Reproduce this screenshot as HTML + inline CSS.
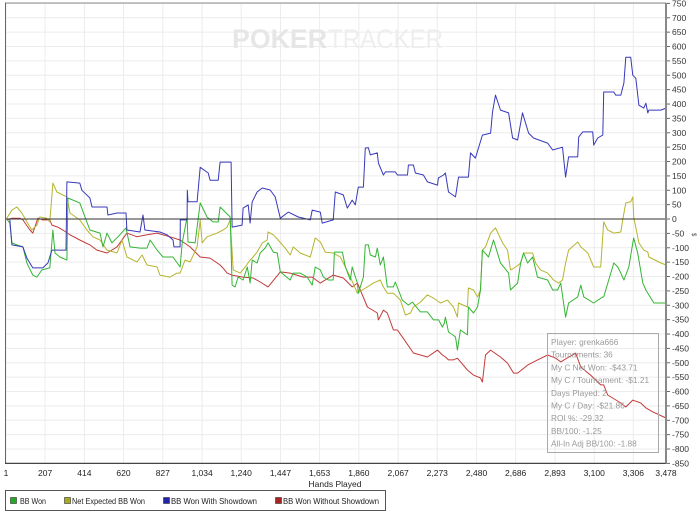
<!DOCTYPE html>
<html><head><meta charset="utf-8"><style>
body{margin:0;background:#fff;width:700px;height:516px;overflow:hidden;font-family:"Liberation Sans",sans-serif}
svg{display:block}
</style></head><body>
<svg id="chart" width="700" height="516" font-family="Liberation Sans, sans-serif">
<g id="grid"></g>
<g>
<text x="232" y="48" font-size="27" font-weight="bold" fill="#e6e6e6" textLength="95" lengthAdjust="spacingAndGlyphs">POKER</text>
<text x="328" y="48" font-size="27" fill="#eeeeee" textLength="115" lengthAdjust="spacingAndGlyphs">TRACKER</text>
</g>
<g id="series"></g>
<g id="axes"></g>
<g font-size="8.3" fill="#999">
<rect x="547.5" y="333.5" width="111" height="119" fill="none" stroke="#aaa"/>
<text x="551" y="345">Player: grenka666</text>
<text x="551" y="357.7">Tournaments: 36</text>
<text x="551" y="370.4">My C Net Won: -$43.71</text>
<text x="551" y="383.1">My C / Tournament: -$1.21</text>
<text x="551" y="395.8">Days Played: 2</text>
<text x="551" y="408.5">My C / Day: -$21.86</text>
<text x="551" y="421.2">ROI %: -29.32</text>
<text x="551" y="433.9">BB/100: -1.25</text>
<text x="551" y="446.6">All-In Adj BB/100: -1.88</text>
</g>
<text x="335" y="487" font-size="8.5" text-anchor="middle" fill="#222">Hands Played</text>
<text x="0" y="0" font-size="6" fill="#444" transform="translate(692,233) rotate(90)">$</text>
<g font-size="8.5" fill="#222">
<rect x="5.5" y="490.5" width="380" height="20" fill="#fff" stroke="#555"/>
<g><rect x="10.5" y="497.5" width="6" height="6" fill="#22aa22" stroke="#333" stroke-width="0.6"/><text x="20" y="504" textLength="26" lengthAdjust="spacingAndGlyphs">BB Won</text></g>
<g><rect x="64.5" y="497.5" width="6" height="6" fill="#aaaa22" stroke="#333" stroke-width="0.6"/><text x="72" y="504" textLength="73" lengthAdjust="spacingAndGlyphs">Net Expected BB Won</text></g>
<g><rect x="163.5" y="497.5" width="6" height="6" fill="#2222aa" stroke="#333" stroke-width="0.6"/><text x="171" y="504" textLength="86" lengthAdjust="spacingAndGlyphs">BB Won With Showdown</text></g>
<g><rect x="275.5" y="497.5" width="6" height="6" fill="#aa2222" stroke="#333" stroke-width="0.6"/><text x="283" y="504" textLength="96" lengthAdjust="spacingAndGlyphs">BB Won Without Showdown</text></g>
</g>
</svg>
<script>
const xTickLabels=["1","207","414","620","827","1,034","1,240","1,447","1,653","1,860","2,067","2,273","2,480","2,686","2,893","3,100","3,306","3,478"];
const xTickValues=[1,207,414,620,827,1034,1240,1447,1653,1860,2067,2273,2480,2686,2893,3100,3306,3478];
const yMin=-850, yMax=750, yStep=50;

const blueHands=[1,21,32,90,111,142,195,222,243,317,322,390,401,443,454,533,538,586,633,638,707,723,733,812,849,881,886,918,919,955,956,960,1008,1024,1066,1076,1119,1129,1187,1192,1245,1250,1277,1287,1298,1324,1351,1393,1419,1446,1488,1541,1604,1614,1657,1667,1725,1736,1778,1799,1825,1841,1857,1884,1894,1910,1920,1957,1963,1989,2000,2052,2063,2116,2121,2147,2158,2200,2221,2274,2279,2306,2316,2332,2369,2385,2437,2448,2474,2511,2554,2564,2580,2606,2649,2670,2696,2722,2754,2780,2854,2881,2933,2949,2965,3013,3018,3039,3092,3097,3118,3145,3150,3203,3213,3240,3256,3266,3292,3303,3319,3335,3361,3372,3382,3388,3451,3478];
const blueValues=[0,0,-90,-97,-136,-170,-170,-153,-108,-108,129,125,100,73,42,42,14,21,21,-38,-45,14,-38,-45,-55,-73,-97,-97,-3,-3,100,60,60,180,160,135,135,198,198,-28,-21,38,49,-14,60,94,108,101,77,3,24,7,-3,31,24,-14,-3,94,84,38,66,49,111,111,247,248,223,230,195,153,164,164,153,153,188,188,160,153,129,118,143,153,160,94,77,146,146,230,212,292,299,372,431,379,369,282,275,369,299,282,264,240,250,146,216,216,285,303,303,257,282,292,442,442,431,431,473,563,563,500,490,396,386,403,369,379,379,386];

const greenHands=[1,5,21,32,58,90,111,142,164,190,232,248,259,285,322,327,390,417,443,496,512,533,559,601,633,654,707,744,760,797,828,881,918,929,955,960,997,1024,1060,1092,1119,1129,1182,1192,1208,1224,1250,1272,1287,1298,1324,1340,1366,1382,1409,1430,1446,1498,1514,1551,1588,1614,1630,1657,1673,1699,1725,1731,1773,1789,1815,1825,1852,1857,1884,1894,1910,1920,1947,1957,1973,1989,2010,2042,2052,2089,2121,2142,2184,2221,2253,2280,2300,2310,2316,2332,2369,2379,2395,2432,2437,2464,2485,2501,2511,2543,2569,2606,2649,2659,2696,2712,2728,2749,2775,2801,2854,2881,2907,2923,2949,2965,3013,3029,3045,3097,3145,3150,3203,3224,3240,3256,3282,3303,3308,3329,3356,3372,3382,3414,3478];
const greenValues=[0,0,-14,-83,-90,-97,-153,-195,-202,-177,-170,-38,-118,-132,-143,73,56,7,-38,-49,-97,-49,-83,-55,-31,-97,-101,-101,-73,-108,-132,-132,-167,-83,7,-80,-83,56,7,-10,-10,42,7,-230,-236,-202,-212,-167,-223,-143,-153,-118,-101,-83,-115,-118,-184,-212,-188,-188,-202,-230,-167,-177,-202,-212,-212,-115,-115,-167,-212,-167,-223,-258,-202,-90,-90,-125,-132,-101,-160,-132,-236,-236,-219,-282,-299,-289,-323,-323,-351,-351,-376,-362,-341,-393,-410,-456,-386,-403,-306,-327,-306,-247,-108,-132,-73,-153,-188,-247,-223,-153,-118,-153,-132,-202,-212,-247,-247,-223,-341,-292,-271,-230,-271,-292,-271,-271,-153,-167,-188,-212,-167,-83,-66,-118,-223,-247,-258,-292,-292,-299];

const yellowHands=[5,32,58,84,111,137,164,179,216,232,248,269,322,338,390,427,459,496,533,586,612,638,691,718,744,797,812,865,902,918,944,971,1008,1024,1034,1060,1113,1145,1166,1182,1198,1235,1261,1287,1303,1324,1351,1377,1382,1409,1435,1472,1498,1514,1551,1604,1630,1657,1683,1725,1762,1789,1815,1852,1878,1905,1936,1973,1989,2010,2042,2079,2105,2132,2147,2184,2221,2253,2290,2327,2358,2379,2385,2432,2437,2464,2485,2501,2511,2527,2554,2580,2617,2643,2659,2686,2712,2728,2775,2791,2817,2854,2886,2912,2933,2949,2965,3013,3029,3066,3097,3134,3150,3171,3203,3240,3250,3266,3292,3303,3308,3329,3335,3361,3382,3388,3451,3478];
const yellowValues=[3,31,42,21,-10,-38,-21,7,3,-10,125,94,77,21,-3,-38,-62,-73,-108,-118,-73,-132,-149,-125,-160,-167,-195,-202,-188,-188,-143,-149,-97,-3,-83,-62,-49,-38,-28,-3,-177,-188,-167,-143,-132,-115,-83,-73,-45,-55,-73,-101,-125,-97,-118,-132,-66,-80,-115,-118,-132,-167,-202,-258,-247,-236,-223,-212,-236,-258,-258,-282,-334,-327,-306,-289,-264,-275,-292,-282,-306,-341,-292,-306,-240,-247,-271,-247,-108,-97,-49,-31,-83,-108,-177,-167,-153,-118,-118,-153,-177,-188,-212,-223,-212,-153,-108,-80,-97,-118,-167,-167,-10,-38,-49,-45,-3,56,60,77,7,-62,-83,-108,-115,-132,-153,-160];

const redHands=[5,32,74,90,127,142,169,195,232,243,274,317,338,390,443,480,533,586,638,691,744,797,865,918,971,1024,1076,1129,1150,1166,1190,1250,1303,1340,1382,1446,1498,1567,1614,1657,1725,1778,1825,1852,1905,1957,1963,1989,2010,2042,2063,2089,2147,2221,2274,2300,2316,2332,2358,2379,2432,2464,2501,2511,2527,2554,2606,2643,2675,2696,2749,2801,2854,2897,2923,3002,3029,3081,3134,3150,3171,3240,3266,3303,3345,3372,3409,3478];
const redValues=[-3,3,3,-3,-38,-49,3,-3,-3,-21,-28,-45,-55,-73,-90,-108,-118,-97,-49,-62,-55,-49,-62,-73,-97,-132,-136,-160,-175,-188,-195,-202,-205,-219,-236,-184,-188,-202,-202,-223,-195,-205,-236,-223,-306,-327,-351,-317,-327,-386,-386,-410,-466,-480,-456,-473,-480,-490,-490,-484,-525,-543,-553,-567,-473,-456,-480,-501,-536,-536,-508,-490,-473,-484,-497,-466,-515,-543,-577,-577,-612,-640,-654,-630,-640,-657,-671,-692];

const NS="http://www.w3.org/2000/svg";
const L=6,R=666,T=3.4,B=463.4;
function xs(h){return L+(h-1)*(R-L)/3477;}
function ys(v){return T+(yMax-v)*(B-T)/(yMax-yMin);}
const gridG=document.getElementById('grid'),axesG=document.getElementById('axes'),serG=document.getElementById('series');
function mk(tag,attrs,parent){const e=document.createElementNS(NS,tag);for(const k in attrs)e.setAttribute(k,attrs[k]);parent.appendChild(e);return e;}
for(let v=yMin;v<=yMax;v+=yStep){
  const y=ys(v);
  const g=mk('line',{x1:L,x2:R,y1:y,y2:y,stroke:v===0?'#333':'#ececec','stroke-width':1},v===0?axesG:gridG);
  
  
  const t=mk('line',{x1:R,x2:R+4,y1:y,y2:y,stroke:'#666'},axesG);
  
  
  const lb=mk('text',{x:R+6,y:y+3,'font-size':8.5,fill:'#333'},axesG);
  lb.textContent=String(v);
  
  
}
xTickValues.forEach((h,i)=>{
  const x=xs(h);
  const g=mk('line',{x1:x,x2:x,y1:T,y2:B,stroke:'#ececec'},gridG);
  
  
  const lb=mk('text',{x:x,y:476,'font-size':8.5,fill:'#222','text-anchor':'middle'},axesG);
  lb.textContent=xTickLabels[i];
  
  
});
const topBorder=mk('line',{x1:L-1,x2:R,y1:3,y2:3,stroke:'#888'},axesG);


const leftBorder=mk('line',{x1:5.5,x2:5.5,y1:3,y2:B,stroke:'#666'},axesG);


const xAxisLine=mk('line',{x1:5,x2:R,y1:B,y2:B,stroke:'#444','stroke-width':1.2},axesG);


const yAxisLine=mk('line',{x1:R,x2:R,y1:3,y2:B,stroke:'#888','stroke-width':2},axesG);


function draw(hs,vs,color,name){
  const d=hs.map((h,i)=>(i?'L':'M')+xs(h).toFixed(1)+','+ys(vs[i]).toFixed(1)).join('');
  const p=mk('path',{d:d,fill:'none',stroke:color,'stroke-width':1,'stroke-linejoin':'round'},serG);
  
  
}
draw(redHands,redValues,'#c23a3a','series-bb-won-without-showdown');
draw(yellowHands,yellowValues,'#b5b52e','series-net-expected-bb-won');
draw(greenHands,greenValues,'#33b533','series-bb-won');
draw(blueHands,blueValues,'#3838bb','series-bb-won-with-showdown');
</script>
</body></html>
